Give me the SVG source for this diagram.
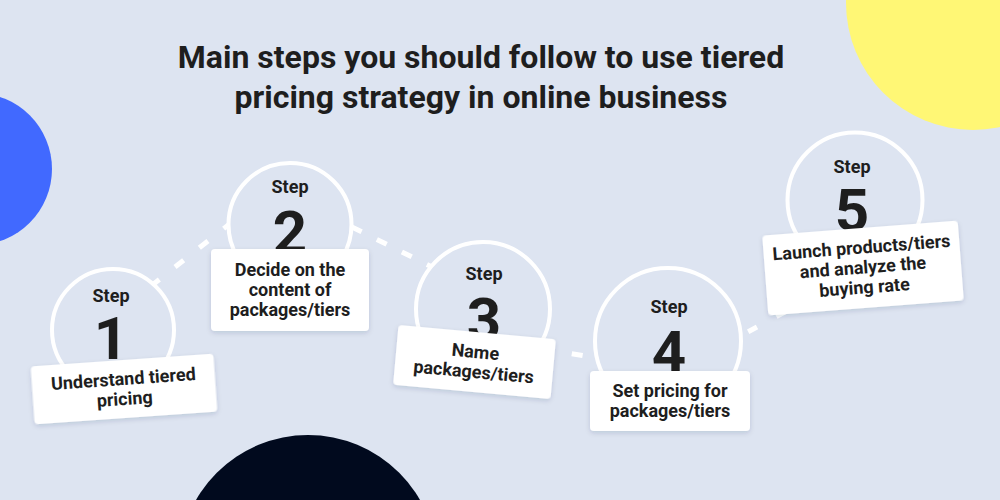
<svg xmlns="http://www.w3.org/2000/svg" width="1000" height="500" viewBox="0 0 1000 500">
  <defs>
    <filter id="shadow" x="-20%" y="-30%" width="140%" height="160%">
      <feDropShadow dx="0" dy="2" stdDeviation="2.5" flood-color="#1a2a50" flood-opacity="0.15"/>
    </filter>
    <style>
      .title { font-family: Roboto, "Liberation Sans", sans-serif; font-weight: 700; font-size: 32px; fill: #1e1e1e; text-anchor: middle; }
      .ring { fill: #dde4f1; stroke: #ffffff; stroke-width: 4; }
      .step { font-family: Roboto, "Liberation Sans", sans-serif; font-weight: 700; font-size: 18px; fill: #1e1e1e; text-anchor: middle; }
      .num { font-family: Roboto, "Liberation Sans", sans-serif; font-weight: 700; font-size: 60px; fill: #1e1e1e; text-anchor: middle; }
      .card { fill: #ffffff; filter: url(#shadow); }
      .label { font-family: Roboto, "Liberation Sans", sans-serif; font-weight: 700; font-size: 18px; fill: #1e1e1e; text-anchor: middle; }
      .dash { stroke: #ffffff; stroke-width: 5; fill: none; stroke-linecap: butt; }
    </style>
  </defs>

  <rect x="0" y="0" width="1000" height="500" fill="#dde4f1"/>

  <g id="decor">
    <circle cx="-24" cy="169" r="76" fill="#4169ff"/>
    <circle cx="973" cy="3" r="127" fill="#fff775"/>
    <circle cx="308" cy="564" r="129" fill="#010a1e"/>
  </g>

  <g id="title">
    <text class="title" x="481" y="68">Main steps you should follow to use tiered</text>
    <text class="title" x="481" y="108">pricing strategy in online business</text>
  </g>

  <g id="connectors">
    <line class="dash" x1="146" y1="290" x2="232" y2="222" stroke-dasharray="0 6 11 14"/>
    <line class="dash" x1="350" y1="226" x2="432" y2="267" stroke-dasharray="0 2 11 15"/>
    <line class="dash" x1="556" y1="351" x2="597" y2="358" stroke-dasharray="0 16 11 14"/>
    <line class="dash" x1="742" y1="335" x2="800" y2="304" stroke-dasharray="0 7 10 15"/>
  </g>

  <g id="step1">
    <circle class="ring" cx="113" cy="330" r="61"/>
    <text class="step" x="111" y="302">Step</text>
    <text class="num" x="111" y="359">1</text>
    <g transform="translate(124,389) rotate(-4)">
      <rect class="card" x="-91.5" y="-29" width="183" height="58" rx="4"/>
      <text class="label" x="0" y="-4">Understand tiered</text>
      <text class="label" x="0" y="16">pricing</text>
    </g>
  </g>

  <g id="step2">
    <circle class="ring" cx="290" cy="224.5" r="61.5"/>
    <text class="step" x="290" y="193">Step</text>
    <text class="num" x="290" y="253">2</text>
    <g transform="translate(290,290)">
      <rect class="card" x="-79" y="-41" width="158" height="82" rx="4"/>
      <text class="label" x="0" y="-14.5">Decide on the</text>
      <text class="label" x="0" y="5.5">content of</text>
      <text class="label" x="0" y="25.5">packages/tiers</text>
    </g>
  </g>

  <g id="step3">
    <circle class="ring" cx="483" cy="309" r="67"/>
    <text class="step" x="484" y="280">Step</text>
    <text class="num" x="484" y="340">3</text>
    <g transform="translate(474.5,362) rotate(5.2)">
      <rect class="card" x="-79" y="-30" width="158" height="60" rx="4"/>
      <text class="label" x="0" y="-4">Name</text>
      <text class="label" x="0" y="16">packages/tiers</text>
    </g>
  </g>

  <g id="step4">
    <circle class="ring" cx="668" cy="341" r="73"/>
    <text class="step" x="669" y="313">Step</text>
    <text class="num" x="669" y="373">4</text>
    <g transform="translate(670,401)">
      <rect class="card" x="-80" y="-30" width="160" height="60" rx="4"/>
      <text class="label" x="0" y="-4">Set pricing for</text>
      <text class="label" x="0" y="16">packages/tiers</text>
    </g>
  </g>

  <g id="step5">
    <circle class="ring" cx="855" cy="200" r="67.5"/>
    <text class="step" x="852" y="173">Step</text>
    <text class="num" x="852" y="231">5</text>
    <g transform="translate(863,268) rotate(-4.4)">
      <rect class="card" x="-98" y="-40" width="196" height="80" rx="4"/>
      <text class="label" x="0" y="-14.5">Launch products/tiers</text>
      <text class="label" x="0" y="5.5">and analyze the</text>
      <text class="label" x="0" y="25.5">buying rate</text>
    </g>
  </g>
</svg>
